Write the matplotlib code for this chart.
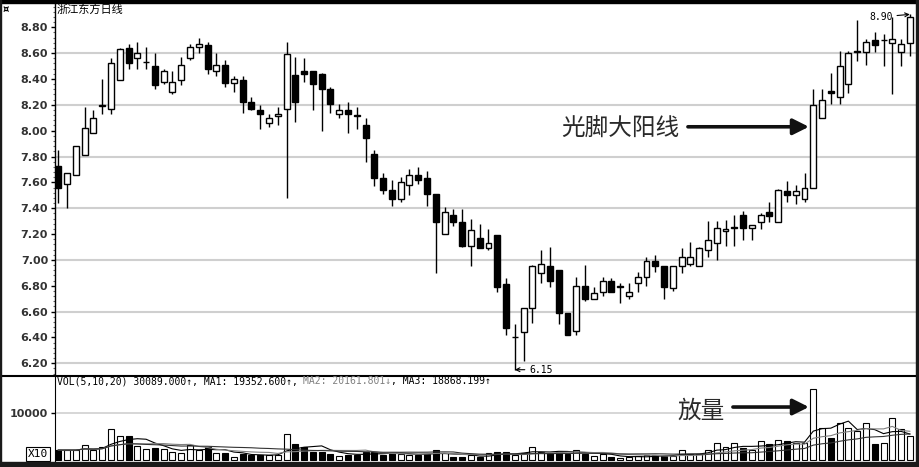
import matplotlib
matplotlib.use("Agg")
import matplotlib.pyplot as plt
from matplotlib.lines import Line2D
from matplotlib.patches import Rectangle
from matplotlib.ticker import MultipleLocator
import pandas as pd

# daily OHLC
OPEN = [7.73, 7.59, 7.66, 7.81, 7.98, 8.19, 8.17, 8.39, 8.64, 8.56,
        8.53, 8.50, 8.38, 8.30, 8.39, 8.56, 8.65, 8.66, 8.46, 8.51,
        8.37, 8.39, 8.22, 8.16, 8.06, 8.11, 8.17, 8.43, 8.46, 8.46,
        8.44, 8.32, 8.13, 8.16, 8.12, 8.04, 7.82, 7.63, 7.54, 7.47,
        7.58, 7.66, 7.63, 7.51, 7.20, 7.35, 7.29, 7.11, 7.17, 7.09,
        7.19, 6.81, 6.40, 6.44, 6.63, 6.90, 6.95, 6.92, 6.59, 6.45,
        6.80, 6.70, 6.75, 6.84, 6.79, 6.72, 6.82, 6.87, 6.99, 6.95,
        6.78, 6.95, 6.97, 6.95, 7.08, 7.13, 7.22, 7.25, 7.35, 7.25,
        7.29, 7.37, 7.29, 7.53, 7.50, 7.47, 7.56, 8.10, 8.31, 8.26,
        8.36, 8.61, 8.61, 8.70, 8.70, 8.68, 8.61, 8.68]
HIGH = [7.85, 7.67, 7.88, 8.18, 8.16, 8.40, 8.56, 8.64, 8.67, 8.69,
        8.65, 8.60, 8.48, 8.46, 8.57, 8.67, 8.72, 8.69, 8.60, 8.55,
        8.42, 8.42, 8.26, 8.20, 8.13, 8.18, 8.69, 8.57, 8.56, 8.46,
        8.45, 8.34, 8.21, 8.22, 8.18, 8.10, 7.85, 7.67, 7.62, 7.64,
        7.70, 7.72, 7.69, 7.51, 7.41, 7.39, 7.39, 7.32, 7.28, 7.24,
        7.19, 6.86, 6.50, 6.63, 6.96, 7.08, 7.10, 6.92, 6.59, 6.87,
        6.96, 6.79, 6.87, 6.86, 6.82, 6.82, 6.91, 7.02, 7.04, 6.95,
        6.95, 7.09, 7.14, 7.10, 7.30, 7.30, 7.31, 7.35, 7.38, 7.27,
        7.36, 7.45, 7.55, 7.61, 7.58, 7.67, 8.32, 8.32, 8.45, 8.62,
        8.62, 8.86, 8.71, 8.76, 8.75, 8.88, 8.71, 8.90]
LOW = [7.44, 7.40, 7.66, 7.81, 7.98, 8.13, 8.13, 8.39, 8.48, 8.48,
       8.48, 8.32, 8.36, 8.28, 8.35, 8.55, 8.60, 8.44, 8.42, 8.34,
       8.30, 8.14, 8.16, 8.01, 8.03, 8.04, 7.48, 8.07, 8.38, 8.16,
       8.00, 8.14, 8.10, 7.98, 8.01, 7.76, 7.57, 7.51, 7.42, 7.45,
       7.50, 7.59, 7.42, 6.90, 7.20, 7.26, 7.10, 6.95, 7.09, 7.08,
       6.75, 6.42, 6.15, 6.22, 6.51, 6.82, 6.79, 6.50, 6.42, 6.42,
       6.68, 6.70, 6.72, 6.75, 6.67, 6.70, 6.75, 6.80, 6.91, 6.70,
       6.76, 6.90, 6.95, 6.95, 7.02, 7.00, 7.11, 7.11, 7.15, 7.15,
       7.24, 7.29, 7.29, 7.45, 7.43, 7.45, 7.56, 8.10, 8.21, 8.21,
       8.29, 8.54, 8.51, 8.61, 8.50, 8.28, 8.50, 8.58]
CLOSE = [7.56, 7.67, 7.88, 8.02, 8.10, 8.20, 8.52, 8.63, 8.52, 8.60,
         8.53, 8.35, 8.46, 8.38, 8.51, 8.65, 8.67, 8.48, 8.51, 8.37,
         8.40, 8.22, 8.17, 8.13, 8.10, 8.13, 8.59, 8.22, 8.44, 8.36,
         8.32, 8.21, 8.16, 8.13, 8.11, 7.94, 7.63, 7.54, 7.47, 7.60,
         7.66, 7.62, 7.51, 7.29, 7.37, 7.29, 7.11, 7.23, 7.09, 7.13,
         6.79, 6.47, 6.40, 6.63, 6.95, 6.97, 6.84, 6.59, 6.42, 6.80,
         6.70, 6.74, 6.84, 6.75, 6.80, 6.75, 6.87, 6.99, 6.95, 6.79,
         6.95, 7.02, 7.02, 7.09, 7.15, 7.25, 7.24, 7.25, 7.25, 7.27,
         7.35, 7.34, 7.54, 7.50, 7.53, 7.56, 8.20, 8.24, 8.29, 8.50,
         8.60, 8.61, 8.69, 8.66, 8.70, 8.71, 8.67, 8.88]
VOLUME = [2100, 2100, 2100, 3100, 2100, 2800, 6500, 5100, 5100, 3000,
          2250, 2500, 2250, 1760, 1400, 3200, 2100, 2800, 1400, 1400,
          700, 1270, 1050, 1050, 1050, 1050, 5400, 3300, 2700, 1760,
          1760, 1270, 850, 1050, 1050, 1760, 1760, 1050, 1550, 1270,
          1050, 1050, 1270, 2100, 1400, 560, 560, 1050, 560, 1400,
          1760, 1760, 1050, 1400, 2700, 1760, 1550, 1760, 1270, 2100,
          1270, 850, 1270, 560, 350, 560, 850, 1050, 1050, 850,
          850, 2100, 1270, 1270, 2100, 3660, 2700, 3500, 2450, 2100,
          4000, 3400, 4200, 4080, 3660, 3500, 15100, 6800, 4600, 7900,
          6700, 6200, 7900, 3400, 3660, 8800, 6500, 5100]
PRICE_TICKS = [6.20, 6.40, 6.60, 6.80, 7.00, 7.20, 7.40, 7.60, 7.80, 8.00,
               8.20, 8.40, 8.60, 8.80]
VOL_TICKS = [10000]
MA_WINDOWS = [5, 10, 20]
TITLE = "浙江东方日线"
HEADER = [("VOL(5,10,20) 30089.000↑, MA1: 19352.600↑, ", "black"),
          ("MA2: 20161.801↓", "#808080"),
          (", MA3: 18868.199↑", "black")]

W, H = 919, 467
CJK = ["Noto Sans CJK SC", "DejaVu Sans"]


def rect(l, t, r, b):
    return [l / W, 1 - b / H, (r - l) / W, (b - t) / H]


def px(x):  # pixel column -> candle index
    return (x - 58.3) / 8.78


fig = plt.figure(figsize=(W / 100, H / 100), dpi=100)
ax = fig.add_axes(rect(55, 3, 916, 375))
av = fig.add_axes(rect(55, 376, 916, 461))

df = pd.DataFrame({"o": OPEN, "h": HIGH, "l": LOW, "c": CLOSE, "v": VOLUME})
x = range(len(df))
up = df["c"] >= df["o"]
fill = ["white" if u else "black" for u in up]

# --- price panel
for g in PRICE_TICKS[::2]:
    ax.axhline(g, color="#cfcfcf", lw=1.5, zorder=0)
ax.vlines(x, df["l"], df["h"], color="black", lw=1, zorder=1)
body = (df["c"] - df["o"]).abs().clip(lower=0.004)
ax.bar(x, body, bottom=df[["o", "c"]].min(axis=1), width=0.68, color=fill,
       edgecolor="black", linewidth=1, zorder=2)
ax.set_xlim(-0.38, 97.7)
ax.set_ylim(6.109, 8.988)
ax.set_xticks([])
ax.set_yticks(PRICE_TICKS)
ax.set_yticklabels([f"{t:.2f}" for t in PRICE_TICKS])
ax.yaxis.set_minor_locator(MultipleLocator(0.04))
ax.tick_params(axis="y", which="major", length=3, width=1, pad=2,
               labelsize=8, labelcolor="#333333")
ax.tick_params(axis="y", which="minor", length=1.5, width=0.8, color="#666666")
for lab in ax.get_yticklabels():
    lab.set_fontweight("bold")
for s in ["top", "right", "bottom"]:
    ax.spines[s].set_visible(False)
ax.spines["left"].set_linewidth(1)

ax.text(px(561), 8.02, "光脚大阳线", fontsize=17, family=CJK, color="#2a2a2a",
        ha="left", va="center", zorder=5,
        bbox=dict(boxstyle="square,pad=0.05", fc="white", ec="none"))
ax.annotate("", xy=(px(809), 8.03), xytext=(px(688), 8.03), zorder=5,
            arrowprops=dict(arrowstyle="-|>", lw=2.6, color="#111111",
                            mutation_scale=24, shrinkA=0, shrinkB=0))
ax.annotate("8.90", xy=(97, 8.90), xytext=(px(893), 8.88), ha="right", va="center",
            fontsize=7, family="DejaVu Sans Mono", zorder=5,
            arrowprops=dict(arrowstyle="->", lw=0.8, color="black", shrinkA=1, shrinkB=0))
ax.annotate("6.15", xy=(52, 6.15), xytext=(px(529), 6.15), ha="left", va="center",
            fontsize=7, family="DejaVu Sans Mono", zorder=5,
            arrowprops=dict(arrowstyle="->", lw=0.8, color="black", shrinkA=1, shrinkB=0))

# --- volume panel
for g in VOL_TICKS:
    av.axhline(g, color="#cfcfcf", lw=1.2, zorder=0)
av.bar(x, df["v"], width=0.68, color=fill, edgecolor="black", linewidth=0.8, zorder=2)
for w, col in zip(MA_WINDOWS, ["black", "#808080", "#333333"]):
    av.plot(x, df["v"].rolling(w, min_periods=1).mean(), color=col, lw=0.8, zorder=3)
av.set_xlim(-0.38, 97.7)
av.set_ylim(-211, 17760)
av.set_xticks([])
av.set_yticks(VOL_TICKS)
av.set_yticklabels([str(t) for t in VOL_TICKS])
av.tick_params(axis="y", length=3, width=1, pad=2, labelsize=8, labelcolor="#333333")
for lab in av.get_yticklabels():
    lab.set_fontweight("bold")
for s in ["top", "right", "bottom"]:
    av.spines[s].set_visible(False)

av.text(px(678), 10250, "放量", fontsize=17, family=CJK, color="#2a2a2a",
        ha="left", va="center", zorder=5)
av.annotate("", xy=(px(809), 11200), xytext=(px(733), 11200), zorder=5,
            arrowprops=dict(arrowstyle="-|>", lw=2.6, color="#111111",
                            mutation_scale=24, shrinkA=0, shrinkB=0))

# header: monospace pieces laid end to end
char_px = 0.602 * 7 * 100 / 72
n = 0
for s, col in HEADER:
    fig.text((57 + n * char_px) / W, 1 - 381 / H, s, fontsize=7, color=col,
             family="DejaVu Sans Mono", ha="left", va="center")
    n += len(s)

# --- frame and labels
fig.text(57 / W, 1 - 9 / H, TITLE, fontsize=8, family=CJK, ha="left", va="center")
fig.text(3 / W, 1 - 9 / H, "¤", fontsize=7, fontweight="bold", ha="left", va="center")
fig.text(28 / W, 1 - 454 / H, "X10", fontsize=8, family="DejaVu Sans Mono",
         ha="left", va="center",
         bbox=dict(boxstyle="square,pad=0.15", fc="white", ec="black", lw=0.8))
fig.add_artist(Line2D([0, 916 / W], [1 - 375.5 / H] * 2, color="black", lw=1.5))
fig.add_artist(Rectangle((0, 1 - 3 / H), 1, 3 / H, transform=fig.transFigure,
                         color="black", zorder=10))
fig.add_artist(Rectangle((916 / W, 0), 3 / W, 1, transform=fig.transFigure,
                         color="#1a1a1a", zorder=10))
fig.add_artist(Rectangle((0, 0), 1, 5 / H, transform=fig.transFigure,
                         color="#1a1a1a", zorder=10))
fig.add_artist(Rectangle((0, 0), 1 / W, 1, transform=fig.transFigure,
                         color="#1a1a1a", zorder=10))

fig.savefig("out.png", dpi=100)
